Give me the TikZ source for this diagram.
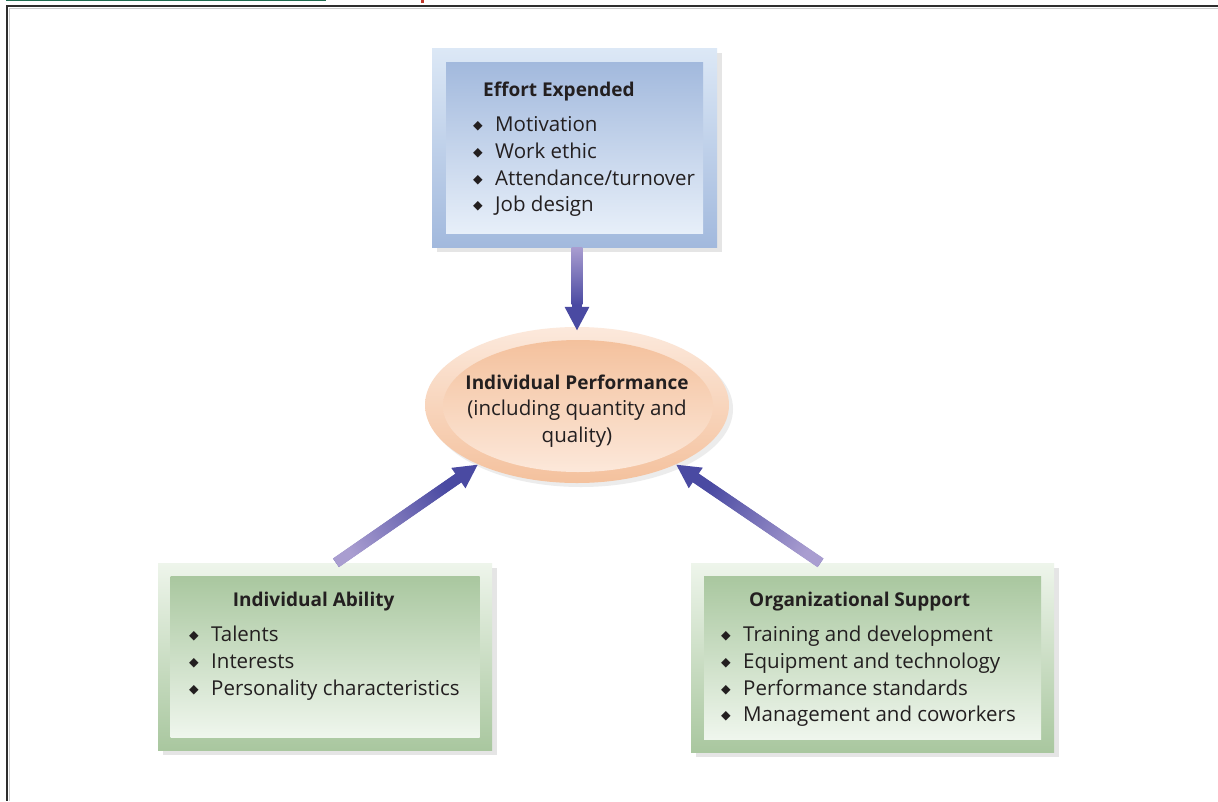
\documentclass[tikz,border=0pt]{standalone}
\usepackage{fontspec}
\setmainfont{Open Sans}
\newfontfamily\symfont{DejaVu Sans}
\usetikzlibrary{shapes.geometric, arrows.meta, positioning, shadows, calc}
\definecolor{ink}{HTML}{231F20}
\definecolor{blueedge}{HTML}{DCE8F6}
\definecolor{bluedeep}{HTML}{A2B9DD}
\definecolor{bluepale}{HTML}{E7EFF9}
\definecolor{greenedge}{HTML}{EEF5EB}
\definecolor{greendeep}{HTML}{A9C79F}
\definecolor{greenpale}{HTML}{EFF6ED}
\definecolor{peachedge}{HTML}{FCE9DC}
\definecolor{peachdeep}{HTML}{F4C19D}
\definecolor{peachpale}{HTML}{FCE8DA}
\definecolor{arrowdark}{HTML}{4A4AA2}
\definecolor{arrowlight}{HTML}{A99DD0}
\definecolor{framegray}{HTML}{2E2E2E}
\definecolor{bandgreen}{HTML}{1F6B4F}
\definecolor{markred}{HTML}{C0392B}
\newcommand{\bul}{\makebox[22pt][l]{\raisebox{2pt}{\symfont\fontsize{12.5}{12}\selectfont ◆}}}
\newcommand{\shaftfade}[3]{%
    \path ($(#2)!22pt!(#1)$) coordinate (hb);
    \shade[shaft, shading angle=#3] ($(#1)!5.3pt!90:(#2)$) -- ($(#1)!5.3pt!-90:(#2)$)
        -- ($(hb)!5.3pt!90:(#1)$) -- ($(hb)!5.3pt!-90:(#1)$) -- cycle;}
\tikzset{
    panel/.style={
        rectangle, inner sep=0pt,
        drop shadow={opacity=0.2, shadow xshift=5pt, shadow yshift=-5pt}
    },
    blueframe/.style={panel, top color=blueedge, bottom color=bluedeep},
    bluefill/.style={rectangle, inner sep=0pt, top color=bluedeep, bottom color=bluepale},
    greenframe/.style={panel, top color=greenedge, bottom color=greendeep},
    greenfill/.style={rectangle, inner sep=0pt, top color=greendeep, bottom color=greenpale},
    heading/.style={
        anchor=base west, inner sep=0pt, text=ink, font=\fontsize{19}{26}\selectfont\bfseries
    },
    entry/.style={
        anchor=base west, inner sep=0pt, text=ink, font=\fontsize{20.5}{26}\selectfont
    },
    arrow/.style={
        -{Triangle[width=23pt,length=24pt]}, line width=10pt, draw=arrowdark
    },
    shaft/.style={top color=arrowlight, bottom color=arrowdark}
}
\begin{document}
\begin{tikzpicture}[x=1pt, y=1pt]

    \useasboundingbox (0,0) rectangle (1218,-801);
    \fill[white] (0,0) rectangle (1218,-801);

    % page frame
    \draw[line width=1.5pt, bandgreen] (6,-0.6) -- (326,-0.6);
    \fill[markred] (420.5,0) rectangle (424,-2.5);
    \draw[line width=1pt, black!20] (1218,-8) -- (9,-8) -- (9,-801);
    \draw[line width=2pt, framegray] (1218,-5.5) -- (6.5,-5.5) -- (6.5,-801);

    % boxes
    \node[blueframe, minimum width=285pt, minimum height=199pt] (effort) at (574.5,-147.5) {};
    \node[bluefill, minimum width=257pt, minimum height=171pt] (effortin) at (effort) {};

    \node[greenframe, minimum width=334pt, minimum height=187pt] (ability) at (325,-656.5) {};
    \node[greenfill, minimum width=309pt, minimum height=161pt] (abilityin) at (ability) {};

    \node[greenframe, minimum width=363pt, minimum height=189pt] (support) at (872.5,-657.5) {};
    \node[greenfill, minimum width=337pt, minimum height=163pt] (supportin) at (support) {};

    \node[ellipse, inner sep=0pt, minimum width=304pt, minimum height=156pt,
          top color=peachedge, bottom color=peachdeep,
          drop shadow={opacity=0.15, shadow xshift=4pt, shadow yshift=-4pt}] (perf) at (577,-405) {};
    \node[ellipse, inner sep=0pt, minimum width=270pt, minimum height=132pt,
          top color=peachdeep, bottom color=peachpale] (perfin) at (578,-406) {};
    \node[text=ink, align=center, inner sep=0pt, font=\fontsize{20.5}{26.5}\selectfont] (perftext) at (577,-411)
        {\textbf{\fontsize{19}{26.5}\selectfont Individual Performance}\\(including quantity and\\quality)};

    % texts
    \node[heading] (efforttitle) at (483,-96.7) {Effort Expended};
    \foreach \t [count=\i] in {Motivation, Work ethic, Attendance/turnover, Job design}
        \node[entry] (effort-\i) at (473,{-131.7-26.7*(\i-1)}) {\bul\t};

    \node[heading] (abilitytitle) at (232.7,-606.7) {Individual Ability};
    \foreach \t [count=\i] in {Talents, Interests, Personality characteristics}
        \node[entry] (ability-\i) at (189,{-641.7-26.7*(\i-1)}) {\bul\t};

    \node[heading] (supporttitle) at (749,-606) {Organizational Support};
    \foreach \t [count=\i] in {Training and development, Equipment and technology,
                               Performance standards, Management and coworkers}
        \node[entry] (support-\i) at (721,{-641.7-26.7*(\i-1)}) {\bul\t};

    % arrows
    \coordinate (effortout) at (effort.south -| perf.north);
    \coordinate (abilityout) at ([xshift=11pt]ability.north);
    \coordinate (supportout) at ([xshift=-52pt]support.north);

    \draw[arrow, shorten >=-4pt] (effortout) -- (perf.north);
    \draw[arrow] (abilityout) -- (perf.211);
    \draw[arrow] (supportout) -- (perf.329);
    \shaftfade{effortout}{perf.north}{0}
    \shaftfade{abilityout}{perf.211}{124}
    \shaftfade{supportout}{perf.329}{-124}

\end{tikzpicture}
\end{document}
